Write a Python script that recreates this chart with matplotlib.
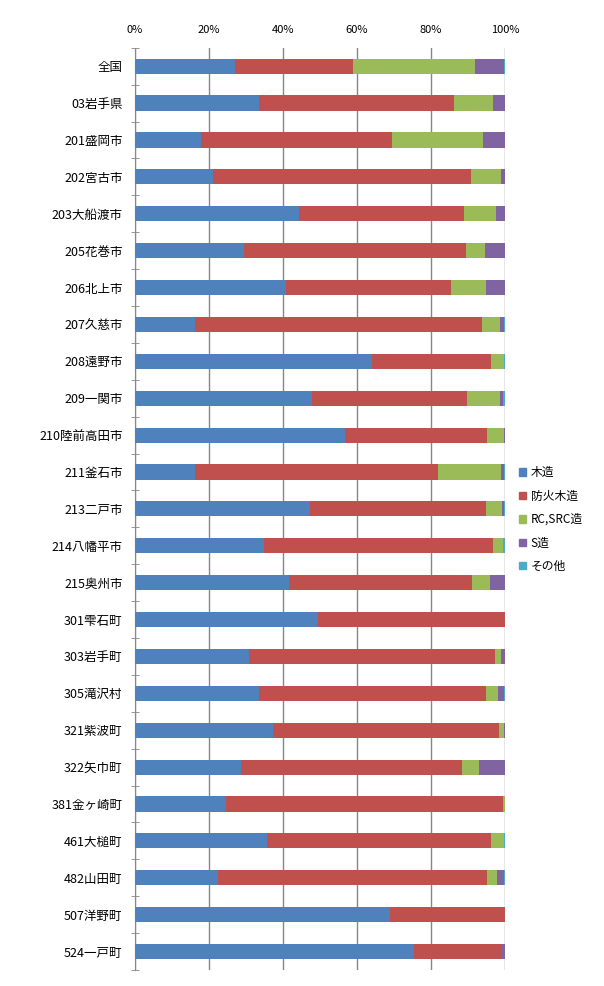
import numpy as np
import matplotlib
matplotlib.use("Agg")
import matplotlib.pyplot as plt
from matplotlib.patches import Patch
from matplotlib.ticker import FuncFormatter

plt.rcParams['font.family'] = ['Noto Sans CJK JP', 'DejaVu Sans']

# 地域
areas = ['全国', '03岩手県', '201盛岡市', '202宮古市', '203大船渡市', '205花巻市',
         '206北上市', '207久慈市', '208遠野市', '209一関市', '210陸前高田市',
         '211釜石市', '213二戸市', '214八幡平市', '215奥州市', '301雫石町',
         '303岩手町', '305滝沢村', '321紫波町', '322矢巾町', '381金ヶ崎町',
         '461大槌町', '482山田町', '507洋野町', '524一戸町']

# 構造別の割合(%)
wood = [27.0, 33.6, 17.8, 21.0, 44.4, 29.5, 40.8, 16.1, 64.0, 47.9, 56.8, 16.1, 47.3,
        34.9, 41.6, 49.5, 30.7, 33.6, 37.2, 28.6, 24.6, 35.7, 22.4, 68.8, 75.4]
fireproof_wood = [32.0, 52.5, 51.8, 69.8, 44.4, 59.9, 44.6, 77.6, 32.1, 41.8, 38.3, 65.9, 47.5,
                  61.9, 49.4, 50.4, 66.6, 61.2, 61.1, 59.7, 74.9, 60.4, 72.7, 31.2, 23.8]
rc_src = [32.8, 10.7, 24.4, 8.1, 8.7, 5.2, 9.4, 4.9, 3.6, 8.9, 4.6, 16.9, 4.4,
          2.7, 4.9, 0.1, 1.6, 3.3, 1.4, 4.6, 0.5, 3.6, 2.7, 0.0, 0.0]
steel = [7.9, 3.1, 5.9, 1.1, 2.5, 5.4, 5.2, 1.1, 0.0, 1.0, 0.2, 0.9, 0.5,
         0.1, 4.0, 0.0, 1.1, 1.7, 0.3, 7.1, 0.0, 0.0, 1.9, 0.0, 0.8]
other = [0.3, 0.1, 0.1, 0.0, 0.0, 0.0, 0.0, 0.3, 0.3, 0.4, 0.1, 0.2, 0.3,
         0.4, 0.1, 0.0, 0.0, 0.2, 0.0, 0.0, 0.0, 0.3, 0.3, 0.0, 0.0]

series = [('木造', wood, '#4F81BD'),
          ('防火木造', fireproof_wood, '#C0504D'),
          ('RC,SRC造', rc_src, '#9BBB59'),
          ('S造', steel, '#8064A2'),
          ('その他', other, '#4BACC6')]

fig = plt.figure(figsize=(6.04, 9.86), dpi=100)
ax = fig.add_axes([0.2235, 0.0162, 0.6125, 0.9354])

# 積み上げ横棒
y = np.arange(len(areas))
left = np.zeros(len(areas))
for name, vals, col in series:
    vals = np.array(vals)
    ax.barh(y, vals, left=left, height=0.41, color=col, label=name, zorder=3)
    left += vals

ax.set_xlim(0, 100)
ax.set_ylim(len(areas) - 0.5, -0.5)
ax.xaxis.tick_top()
ax.set_xticks([0, 20, 40, 60, 80, 100])
ax.xaxis.set_major_formatter(FuncFormatter(lambda v, p: f'{int(v)}%'))
ax.tick_params(axis='x', length=0, pad=9, labelsize=8)
ax.grid(axis='x', color='#868686', linewidth=1, zorder=0)

ax.set_yticks(y)
ax.set_yticklabels(areas, fontsize=9)
ax.tick_params(axis='y', which='major', length=0, pad=9)
ax.set_yticks(np.arange(-0.5, len(areas), 1), minor=True)
ax.tick_params(axis='y', which='minor', length=6, direction='inout', color='#868686')

for s in ['top', 'right', 'bottom']:
    ax.spines[s].set_visible(False)
ax.spines['left'].set_color('#868686')

# 凡例
handles = [Patch(color=c, label=n) for n, v, c in series]
fig.legend(handles=handles, loc='center left', bbox_to_anchor=(0.852, 0.473),
           frameon=False, fontsize=8.5, handlelength=0.6, handleheight=0.6,
           handletextpad=0.35, labelspacing=0.88, borderaxespad=0)

fig.savefig('out.png', dpi=100)
